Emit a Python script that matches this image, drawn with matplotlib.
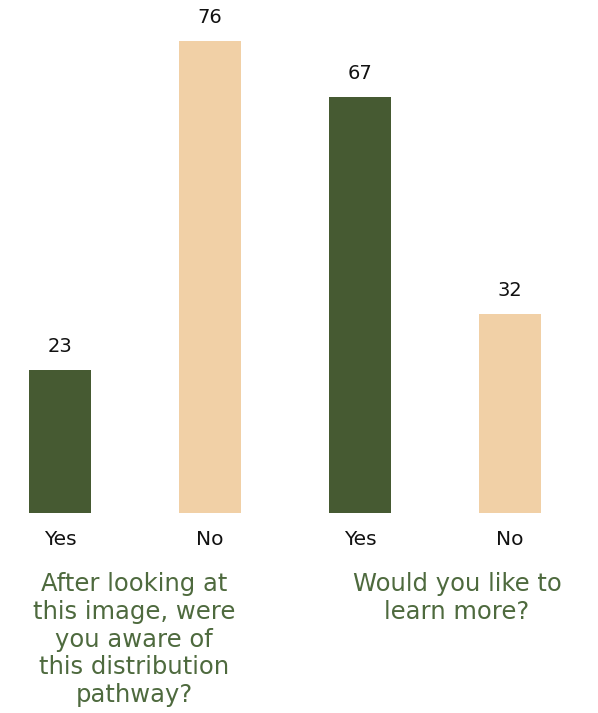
import matplotlib
matplotlib.use("Agg")
import matplotlib.pyplot as plt

categories = ["Yes", "No", "Yes", "No"]
values = [23, 76, 67, 32]
colors = ["#465a32", "#f1d0a6", "#465a32", "#f1d0a6"]
questions = ["After looking at\nthis image, were\nyou aware of\nthis distribution\npathway?",
             "Would you like to\nlearn more?"]

plt.rcParams['font.family'] = ['DejaVu Sans']
fig = plt.figure(figsize=(5.98, 7.13), dpi=100)
ax = fig.add_axes([0, 200/713, 1, 513/713])
x = list(range(len(values)))
bars = ax.bar(x, values, width=0.413, color=colors)
ax.set_xlim(-0.4, 538/150)
ax.set_ylim(0, 513/6.21)
for xi, v in zip(x, values):
    ax.annotate(str(v), (xi, v), xytext=(0, 17), textcoords="offset points",
                ha="center", va="center", fontsize=14, color="#111111")
ax.set_xticks(x)
ax.set_xticklabels(categories, fontsize=14.5, color="#111111")
ax.tick_params(axis="x", length=0, pad=12.5)
ax.set_yticks([])
for s in ax.spines.values():
    s.set_visible(False)

fig.text(134/598, 1 - 572/713, questions[0], ha="center", va="top", fontsize=17.5,
         color="#4e6a3e", linespacing=1.2)
fig.text(457/598, 1 - 572/713, questions[1], ha="center", va="top", fontsize=17.5,
         color="#4e6a3e", linespacing=1.2)

fig.savefig("out.png", dpi=100)
